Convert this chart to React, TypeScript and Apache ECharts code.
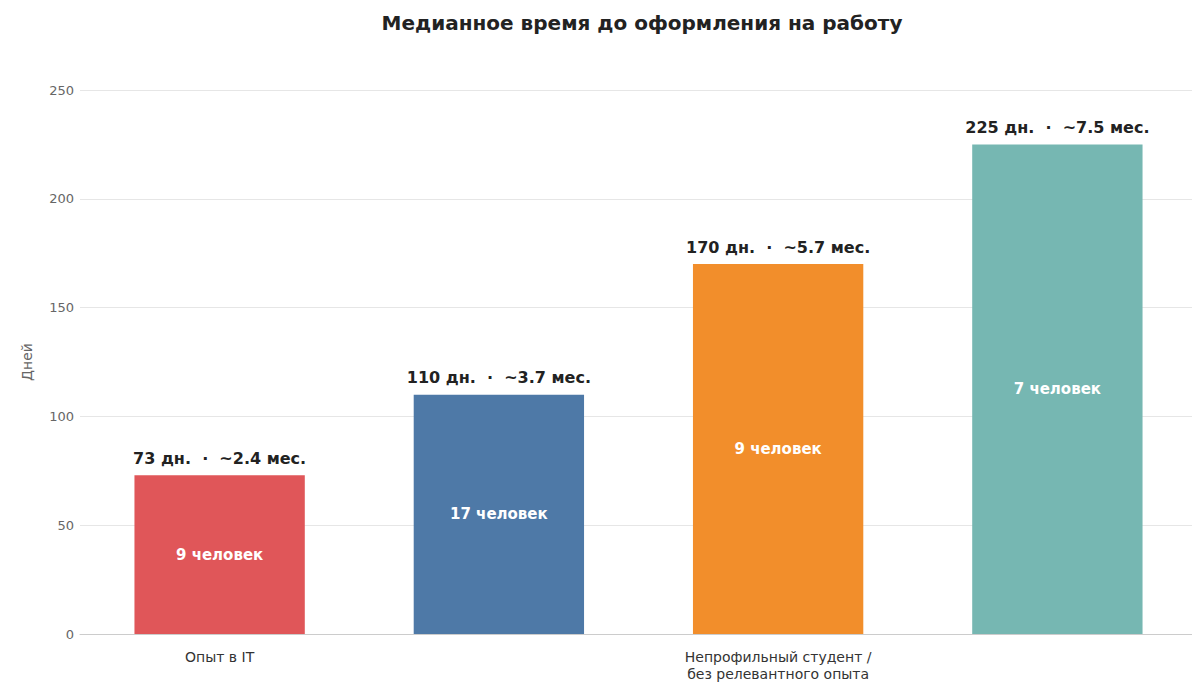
import React, { useEffect, useRef } from "react";
import * as echarts from "echarts";

const categories = [
  "Опыт в IT",
  "Математическое/техническое\nобразование",
  "Непрофильный студент /\nбез релевантного опыта",
  "Офисный опыт",
];
const days = [73, 110, 170, 225];
const months = ["2.4", "3.7", "5.7", "7.5"];
const people = [9, 17, 9, 7];
const colors = ["#e05659", "#4e79a7", "#f28e2b", "#76b7b2"];

const FONT = "DejaVu Sans, sans-serif";

const App: React.FC = () => {
  const ref = useRef<HTMLDivElement>(null);

  useEffect(() => {
    if (!ref.current) return;
    const chart = echarts.init(ref.current, null, { renderer: "svg" });
    chart.setOption({
      animation: false,
      textStyle: { fontFamily: FONT },
      title: {
        text: "Медианное время до оформления на работу",
        left: 637,
        textAlign: "center",
        top: 8,
        textStyle: { fontSize: 20, fontWeight: "bold", color: "#222", fontFamily: FONT },
      },
      grid: { left: 80, right: 3, top: 90, bottom: 57 },
      xAxis: {
        type: "category",
        data: categories,
        axisTick: { show: false },
        axisLine: { lineStyle: { color: "#ccc" } },
        axisLabel: { color: "#333", fontSize: 14, lineHeight: 17, margin: 14, fontFamily: FONT },
      },
      yAxis: {
        type: "value",
        min: 0,
        max: 250,
        interval: 50,
        name: "Дней",
        nameLocation: "middle",
        nameGap: 46,
        nameTextStyle: { color: "#666", fontSize: 14, fontFamily: FONT },
        axisLabel: { color: "#666", fontSize: 13, margin: 6, fontFamily: FONT },
        splitLine: { lineStyle: { color: "#e6e6e6" } },
        axisLine: { show: false },
        axisTick: { show: false },
      },
      series: [
        {
          type: "bar",
          barWidth: "61%",
          data: days.map((v, i) => ({ value: v, itemStyle: { color: colors[i] } })),
          label: {
            show: true,
            position: "inside",
            color: "#fff",
            fontWeight: "bold",
            fontSize: 15,
            fontFamily: FONT,
            formatter: (p: any) => `${people[p.dataIndex]} человек`,
          },
        },
        {
          type: "bar",
          barWidth: "61%",
          barGap: "-100%",
          data: days,
          itemStyle: { color: "transparent" },
          silent: true,
          label: {
            show: true,
            position: "top",
            distance: 9,
            color: "#222",
            fontWeight: "bold",
            fontSize: 16,
            fontFamily: FONT,
            formatter: (p: any) =>
              `${days[p.dataIndex]} дн.  ·  ~${months[p.dataIndex]} мес.`,
          },
        },
      ],
    });
    return () => chart.dispose();
  }, []);

  return <div ref={ref} style={{ width: 1200, height: 691, margin: -8 }} />;
};

export default App;
